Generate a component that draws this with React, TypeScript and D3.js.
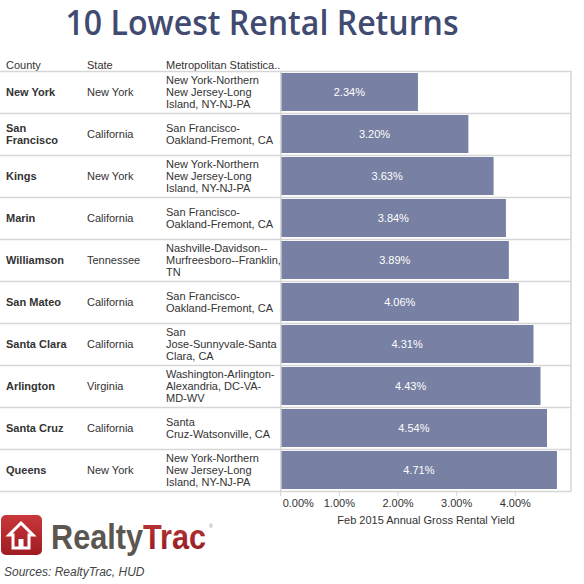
import React from "react";
import * as d3 from "d3";

const counties = ["New York", "San Francisco", "Kings", "Marin", "Williamson", "San Mateo", "Santa Clara", "Arlington", "Santa Cruz", "Queens"];
const countyLines = [["New York"], ["San", "Francisco"], ["Kings"], ["Marin"], ["Williamson"], ["San Mateo"], ["Santa Clara"], ["Arlington"], ["Santa Cruz"], ["Queens"]];
const states = ["New York", "California", "New York", "California", "Tennessee", "California", "California", "Virginia", "California", "New York"];
const metroLines = [
  ["New York-Northern", "New Jersey-Long", "Island, NY-NJ-PA"],
  ["San Francisco-", "Oakland-Fremont, CA"],
  ["New York-Northern", "New Jersey-Long", "Island, NY-NJ-PA"],
  ["San Francisco-", "Oakland-Fremont, CA"],
  ["Nashville-Davidson--", "Murfreesboro--Franklin,", "TN"],
  ["San Francisco-", "Oakland-Fremont, CA"],
  ["San", "Jose-Sunnyvale-Santa", "Clara, CA"],
  ["Washington-Arlington-", "Alexandria, DC-VA-", "MD-WV"],
  ["Santa", "Cruz-Watsonville, CA"],
  ["New York-Northern", "New Jersey-Long", "Island, NY-NJ-PA"],
];
const yields = [2.34, 3.2, 3.63, 3.84, 3.89, 4.06, 4.31, 4.43, 4.54, 4.71];
const tickValues = [0, 1, 2, 3, 4];
const headers = ["County", "State", "Metropolitan Statistica.."];

export default function App() {
  const W = 584, H = 584;
  const top = 71, bottom = 491, left = 0, right = 571, axisX = 280.7;
  const x = d3.scaleLinear().domain([0, 5]).range([axisX, axisX + 58.65 * 5]);
  const y = d3.scaleBand<string>().domain(counties).range([top, bottom]).padding(0);
  const bw = y.bandwidth();
  const font = "'Liberation Sans', Arial, sans-serif";
  const gridC = "#d6d6d6";
  const textC = "#333";
  const colX = [6, 87, 166];
  const lh = 12;
  const fmt = (v: number) => d3.format(".2f")(v) + "%";

  const lines = (arr: string[], cx: number, cy: number, props: any) => {
    const n = arr.length;
    return arr.map((t, i) => (
      <text key={i} x={cx} y={cy + (i - (n - 1) / 2) * lh + 4} {...props}>{t}</text>
    ));
  };

  return (
    <svg width={W} height={H} style={{ position: "absolute", left: 0, top: 0, background: "#fff" }} fontFamily={font}>
      <rect width={W} height={H} fill="#fff" />
      <text x={262} y={35} textAnchor="middle" fontFamily="'Open Sans', sans-serif" fontWeight={600} fontSize={35} fill="#414a70" textLength={393} lengthAdjust="spacingAndGlyphs">10 Lowest Rental Returns</text>

      {headers.map((h, i) => (
        <text key={h} x={colX[i]} y={69} fontSize={11} fill={textC}>{h}</text>
      ))}

      {/* grid */}
      {counties.map((c) => (
        <line key={"g" + c} x1={left} x2={right} y1={(y(c) as number) + bw + 0.5} y2={(y(c) as number) + bw + 0.5} stroke={gridC} strokeWidth={1.5} />
      ))}
      <line x1={left} x2={right} y1={top + 0.5} y2={top + 0.5} stroke={gridC} strokeWidth={1.5} />
      <line x1={axisX} x2={axisX} y1={top} y2={bottom} stroke={gridC} strokeWidth={1.5} />
      <line x1={right} x2={right} y1={top} y2={bottom} stroke={gridC} strokeWidth={1.5} />

      {/* bars */}
      {counties.map((c, i) => {
        const y0 = y(c) as number;
        return (
          <g key={"b" + c}>
            <rect x={x(0) + 0.8} y={y0 + 2} width={x(yields[i]) - x(0) - 0.8} height={bw - 4} fill="#7880a3" />
            <text x={(x(0) + x(yields[i])) / 2} y={y0 + bw / 2 + 4} textAnchor="middle" fontSize={11} fill="#fff">{fmt(yields[i])}</text>
          </g>
        );
      })}

      {/* table text */}
      {counties.map((c, i) => {
        const cy = (y(c) as number) + bw / 2;
        return (
          <g key={"t" + c}>
            {lines(countyLines[i], colX[0], cy, { fontSize: 11, fontWeight: 700, fill: textC })}
            {lines([states[i]], colX[1], cy, { fontSize: 11, fill: textC })}
            {lines(metroLines[i], colX[2], cy, { fontSize: 11, fill: textC })}
          </g>
        );
      })}

      {/* axis */}
      {tickValues.map((t) => (
        <g key={"tk" + t}>
          <line x1={x(t)} x2={x(t)} y1={bottom} y2={bottom + 5} stroke={gridC} strokeWidth={1} />
          <text x={t === 0 ? x(t) + 2 : x(t)} y={507} textAnchor={t === 0 ? "start" : "middle"} fontSize={11} fill={textC}>{fmt(t)}</text>
        </g>
      ))}
      <text x={426} y={524} textAnchor="middle" fontSize={11} fill={textC}>Feb 2015 Annual Gross Rental Yield</text>

      {/* logo */}
      <defs>
        <linearGradient id="lg" x1="0" y1="0" x2="0" y2="1">
          <stop offset="0" stopColor="#c8373b" />
          <stop offset="1" stopColor="#a01c22" />
        </linearGradient>
        <linearGradient id="tg" x1="0" y1="0" x2="0" y2="1">
          <stop offset="0" stopColor="#c0383c" />
          <stop offset="1" stopColor="#8e1a1e" />
        </linearGradient>
      </defs>
      <rect x={1} y={515} width={41} height={40} rx={5} fill="url(#lg)" />
      <path d="M21 523 L33 535 L29 535 L29 548 L13 548 L13 535 L9 535 Z" fill="none" stroke="#fff" strokeWidth={3} strokeLinejoin="miter" />
      <rect x={18.5} y={539} width={5} height={9} fill="#fff" />
      <text x={51} y={549} fontSize={35} fontWeight={700} textLength={155} lengthAdjust="spacingAndGlyphs">
        <tspan fill="#5b5650">Realty</tspan>
        <tspan fill="url(#tg)">Trac</tspan>
      </text>
      <text x={209} y={528} fontSize={5} fill="#888">®</text>
      <text x={4} y={576} fontSize={12} fontStyle="italic" fill="#444">Sources: RealtyTrac, HUD</text>
    </svg>
  );
}
